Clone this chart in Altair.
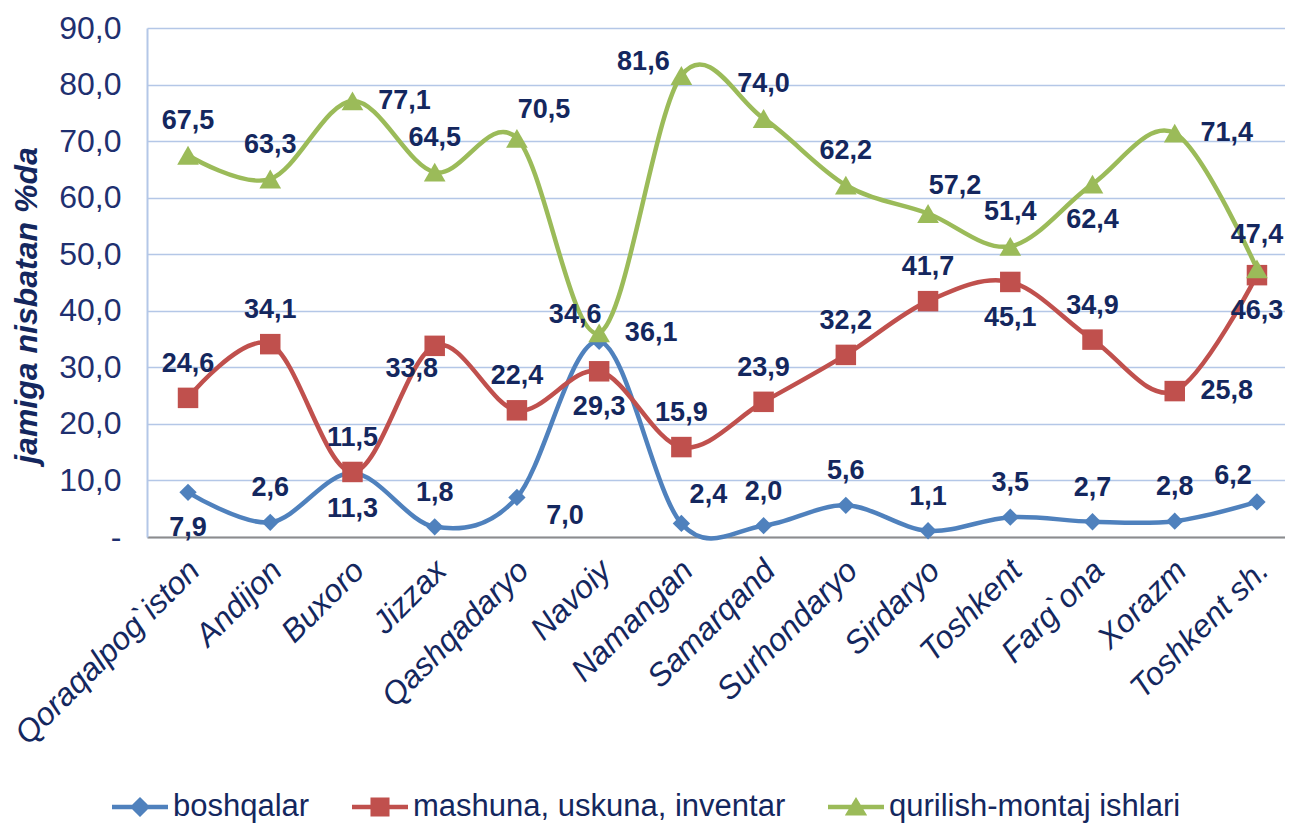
import altair as alt
import pandas as pd

regions = ["Qoraqalpog`iston", "Andijon", "Buxoro", "Jizzax", "Qashqadaryo", "Navoiy",
           "Namangan", "Samarqand", "Surhondaryo", "Sirdaryo", "Toshkent", "Farg`ona",
           "Xorazm", "Toshkent sh."]
series_names = ["boshqalar", "mashuna, uskuna, inventar", "qurilish-montaj ishlari"]
boshqalar = [7.9, 2.6, 11.3, 1.8, 7.0, 34.6, 2.4, 2.0, 5.6, 1.1, 3.5, 2.7, 2.8, 6.2]
mashuna = [24.6, 34.1, 11.5, 33.8, 22.4, 29.3, 15.9, 23.9, 32.2, 41.7, 45.1, 34.9, 25.8, 46.3]
qurilish = [67.5, 63.3, 77.1, 64.5, 70.5, 36.1, 81.6, 74.0, 62.2, 57.2, 51.4, 62.4, 71.4, 47.4]

# data-label placement codes per point
place_b = ["b", "t", "b", "t", "br", "tl", "tr", "t", "t", "t", "t", "t", "t", "tl"]
place_m = ["t", "t", "t", "bl", "t", "b", "t", "t", "t", "t", "b", "t", "r", "b"]
place_q = ["t", "t", "r", "t", "tr", "r", "l", "t", "t", "tr", "t", "b", "r", "t"]

colors = ["#4F81BD", "#C0504D", "#9BBB59"]
marker_shapes = ["diamond", "square", "triangle-up"]
marker_sizes = [300, 420, 470]
legend_paths = [
    "M-1,-0.08H1V0.08H-1Z M0,-0.36L0.36,0L0,0.36L-0.36,0Z",
    "M-1,-0.08H1V0.08H-1Z M-0.34,-0.34H0.34V0.34H-0.34Z",
    "M-1,-0.08H1V0.08H-1Z M0,-0.36L0.4,0.3L-0.4,0.3Z",
]
offsets = {"t": (0, -34), "b": (0, 36), "r": (52, 0), "l": (-38, -14),
           "tl": (-24, -26), "tr": (27, -28), "br": (48, 19), "bl": (-23, 23)}

NAVY = "#14275E"
FONT = "Liberation Sans"

rows = []
for s, vals, pl in zip(series_names, [boshqalar, mashuna, qurilish], [place_b, place_m, place_q]):
    for r, v, p in zip(regions, vals, pl):
        rows.append({"region": r, "series": s, "value": v, "place": p,
                     "label": f"{v:.1f}".replace(".", ",")})
df = pd.DataFrame(rows)

x_enc = alt.X("region:N", sort=regions,
              scale=alt.Scale(type="point", padding=0.42, align=0.594),
              axis=alt.Axis(title=None, labelAngle=-45, labelAlign="right", labelBaseline="middle",
                            labelFont=FONT, labelFontStyle="italic", labelFontSize=32,
                            labelColor=NAVY, labelPadding=28, labelOffset=6, labelLimit=500,
                            labelOverlap=False, ticks=False, grid=False,
                            domainColor="#8C8C8C", domainWidth=2))
y_enc = alt.Y("value:Q",
              scale=alt.Scale(domain=[0, 90], nice=False),
              axis=alt.Axis(title="jamiga nisbatan %da", values=list(range(0, 91, 10)),
                            labelExpr="datum.value == 0 ? '-' : replace(format(datum.value, '.1f'), '.', ',')",
                            labelFont=FONT, labelFontSize=32, labelColor="#1F3070", labelPadding=26,
                            ticks=False, grid=True, gridColor="#B4C7E7", gridWidth=1.5,
                            domainColor="#B4C7E7", domainWidth=2,
                            titleFont=FONT, titleFontSize=32, titleFontWeight="bold",
                            titleFontStyle="italic", titleColor=NAVY, titleX=-104, titleY=277))
leg = alt.Legend(title=None, symbolOpacity=1)
color_enc = alt.Color("series:N", scale=alt.Scale(domain=series_names, range=colors), legend=leg)

base = alt.Chart(df)

# invisible layer that carries the legend (line + marker symbols)
legend_layer = base.mark_point(filled=True, opacity=0).encode(
    x=x_enc, y=y_enc,
    color=color_enc,
    shape=alt.Shape("series:N", scale=alt.Scale(domain=series_names, range=legend_paths), legend=leg),
)

lines = base.mark_line(interpolate="cardinal", strokeWidth=4.5).encode(
    x=alt.X("region:N", sort=regions), y="value:Q", color=color_enc, detail="series:N")

layers = [legend_layer, lines]
for s, shp, sz in zip(series_names, marker_shapes, marker_sizes):
    layers.append(
        base.transform_filter(alt.datum.series == s)
        .mark_point(filled=True, opacity=1, shape=shp, size=sz)
        .encode(x=alt.X("region:N", sort=regions), y="value:Q", color=color_enc)
    )

for code, (dx, dy) in offsets.items():
    layers.append(
        base.transform_filter(alt.datum.place == code)
        .mark_text(dx=dx, dy=dy, font=FONT, fontSize=27, fontWeight="bold", color=NAVY,
                   align="center", baseline="middle")
        .encode(x=alt.X("region:N", sort=regions), y="value:Q", text="label:N")
    )

chart = alt.layer(*layers).properties(
    width=1138, height=509,
    padding={"left": 139, "top": 20, "right": 0, "bottom": 289},
    autosize=alt.AutoSizeParams(type="none"),
).configure_view(stroke=None).configure_legend(
    orient="none", legendX=-35, legendY=751, direction="horizontal",
    labelFont=FONT, labelFontSize=31, labelColor=NAVY, labelLimit=600,
    symbolSize=3136, columnPadding=42, labelOffset=5, padding=0, symbolStrokeWidth=0,
    symbolOpacity=1,
)

chart.save("out.html", embed_options={"renderer": "svg", "actions": False})
